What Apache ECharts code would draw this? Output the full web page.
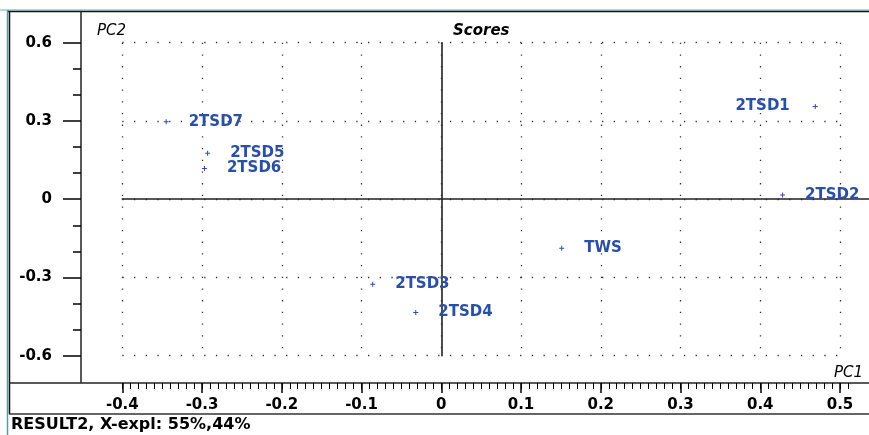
<!DOCTYPE html>
<html>
<head>
<meta charset="utf-8">
<script src="https://cdn.jsdelivr.net/npm/echarts@6/dist/echarts.min.js"></script>
<style>
html,body{margin:0;padding:0;background:#fff;}
#c{width:869px;height:435px;}
</style>
</head>
<body>
<div id="c"></div>
<script>
// ---- data ----
var names = ['2TSD7', '2TSD5', '2TSD6', '2TSD1', '2TSD2', 'TWS', '2TSD3', '2TSD4'];
var pc1 = [-0.345, -0.293, -0.297, 0.469, 0.428, 0.151, -0.086, -0.032];
var pc2 = [0.297, 0.176, 0.118, 0.355, 0.016, -0.188, -0.326, -0.434];
var leftLabels = ['2TSD1'];
var xTicks = [-0.4, -0.3, -0.2, -0.1, 0, 0.1, 0.2, 0.3, 0.4, 0.5];
var yTicks = [-0.6, -0.3, 0, 0.3, 0.6];
var titleText = 'Scores';
var xName = 'PC1';
var yName = 'PC2';
var statusText = 'RESULT2, X-expl: 55%,44%';

var FONT = 'DejaVu Sans';
var BLUE = '#2b4fa3';
var dotted = {color: '#333', width: 1.3, type: [1.3, 10.4]};

var points = names.map(function (n, i) {
  var left = leftLabels.indexOf(n) >= 0;
  return {
    name: n,
    value: [pc1[i], pc2[i]],
    label: {position: left ? 'left' : 'right', distance: left ? 23 : 20}
  };
});

function fmt(v) {
  var r = Math.round(v * 10) / 10;
  return r === 0 ? '0' : String(r);
}

var chart = echarts.init(document.getElementById('c'), null, {renderer: 'canvas'});
chart.setOption({
  animation: false,
  backgroundColor: '#fff',
  title: [
    {text: titleText, left: 448, top: 19, textStyle: {fontFamily: FONT, fontSize: 15, fontWeight: 'bold', fontStyle: 'italic', color: '#000'}},
    {text: yName, left: 92, top: 19, textStyle: {fontFamily: FONT, fontSize: 15, fontWeight: 'normal', fontStyle: 'italic', color: '#000'}},
    {text: xName, left: 829, top: 361, textStyle: {fontFamily: FONT, fontSize: 15, fontWeight: 'normal', fontStyle: 'italic', color: '#000'}}
  ],
  grid: [
    {left: 122.3, right: 29, top: 42.7, bottom: 79.3},
    {left: 122.3, right: 0, top: 42.7, bottom: 79.3},
    {left: 122.3, right: 21, top: 42.7, bottom: 79.3}
  ],
  xAxis: [
    {
      type: 'value', gridIndex: 0, position: 'bottom', offset: 27.3,
      min: xTicks[0], max: xTicks[xTicks.length - 1], interval: 0.1,
      axisLine: {show: false, onZero: false},
      axisTick: {show: true, length: 10, lineStyle: {color: '#000', width: 1.5}},
      axisLabel: {show: true, margin: 15, formatter: fmt, fontFamily: FONT, fontSize: 15, fontWeight: 'bold', color: '#000'},
      splitLine: {show: true, lineStyle: dotted}
    },
    {
      type: 'value', gridIndex: 1, position: 'bottom',
      min: xTicks[0], max: 0.5364,
      axisLine: {show: true, onZero: true, lineStyle: {color: '#222', width: 1.6}},
      axisTick: {show: false}, axisLabel: {show: false}, splitLine: {show: false}
    },
    {
      type: 'value', gridIndex: 2, position: 'bottom', offset: 27.3,
      min: xTicks[0], max: 0.51, interval: 0.01,
      axisLine: {show: false, onZero: false},
      axisTick: {show: true, length: 6, lineStyle: {color: '#000', width: 1}},
      axisLabel: {show: false}, splitLine: {show: false}
    }
  ],
  yAxis: [
    {
      type: 'value', gridIndex: 0, position: 'left', offset: 41.3,
      min: yTicks[0], max: yTicks[yTicks.length - 1], interval: 0.3,
      axisLine: {show: false, onZero: false},
      axisTick: {show: true, length: 18, lineStyle: {color: '#000', width: 1.5}},
      axisLabel: {show: true, margin: 29, formatter: fmt, fontFamily: FONT, fontSize: 15, fontWeight: 'bold', color: '#000'},
      splitLine: {show: true, lineStyle: dotted}
    },
    {
      type: 'value', gridIndex: 0, position: 'left', offset: 41.3,
      min: yTicks[0], max: yTicks[yTicks.length - 1], interval: 0.1,
      axisLine: {show: false, onZero: false},
      axisTick: {show: true, length: 8, lineStyle: {color: '#000', width: 1.5}},
      axisLabel: {show: false}, splitLine: {show: false}
    },
    {
      type: 'value', gridIndex: 1, position: 'left',
      min: yTicks[0], max: yTicks[yTicks.length - 1],
      axisLine: {show: true, onZero: true, lineStyle: {color: '#222', width: 1.6}},
      axisTick: {show: false}, axisLabel: {show: false}, splitLine: {show: false}
    },
    {
      type: 'value', gridIndex: 2, show: false,
      min: yTicks[0], max: yTicks[yTicks.length - 1],
      axisLine: {onZero: false}
    }
  ],
  series: [{
    type: 'scatter',
    xAxisIndex: 0, yAxisIndex: 0,
    symbol: 'path://M2,0H3V5H2ZM0,2H5V3H0Z',
    symbolSize: 5,
    itemStyle: {color: BLUE, opacity: 1},
    label: {show: true, formatter: '{b}', fontFamily: FONT, fontSize: 15, fontWeight: 'bold', color: BLUE, opacity: 1},
    emphasis: {disabled: true},
    data: points,
    z: 5
  }],
  graphic: [
    {type: 'line', shape: {x1: 0, y1: 10, x2: 869, y2: 10}, style: {stroke: '#5fb3c0', lineWidth: 1}, silent: true},
    {type: 'line', shape: {x1: 8, y1: 11.5, x2: 869, y2: 11.5}, style: {stroke: '#111', lineWidth: 1.5}, silent: true},
    {type: 'line', shape: {x1: 7.5, y1: 10, x2: 7.5, y2: 435}, style: {stroke: '#3aa6b8', lineWidth: 1.5}, silent: true},
    {type: 'line', shape: {x1: 9.5, y1: 11, x2: 9.5, y2: 414}, style: {stroke: '#111', lineWidth: 1.5}, silent: true},
    {type: 'line', shape: {x1: 81, y1: 11, x2: 81, y2: 383}, style: {stroke: '#222', lineWidth: 1.5}, silent: true},
    {type: 'line', shape: {x1: 9, y1: 383, x2: 869, y2: 383}, style: {stroke: '#222', lineWidth: 1.5}, silent: true},
    {type: 'line', shape: {x1: 9, y1: 414, x2: 869, y2: 414}, style: {stroke: '#333', lineWidth: 1.5}, silent: true},
    {type: 'text', left: 11, top: 417, style: {text: statusText, font: 'bold 16px "DejaVu Sans"', fill: '#000'}, silent: true}
  ]
});
</script>
</body>
</html>
